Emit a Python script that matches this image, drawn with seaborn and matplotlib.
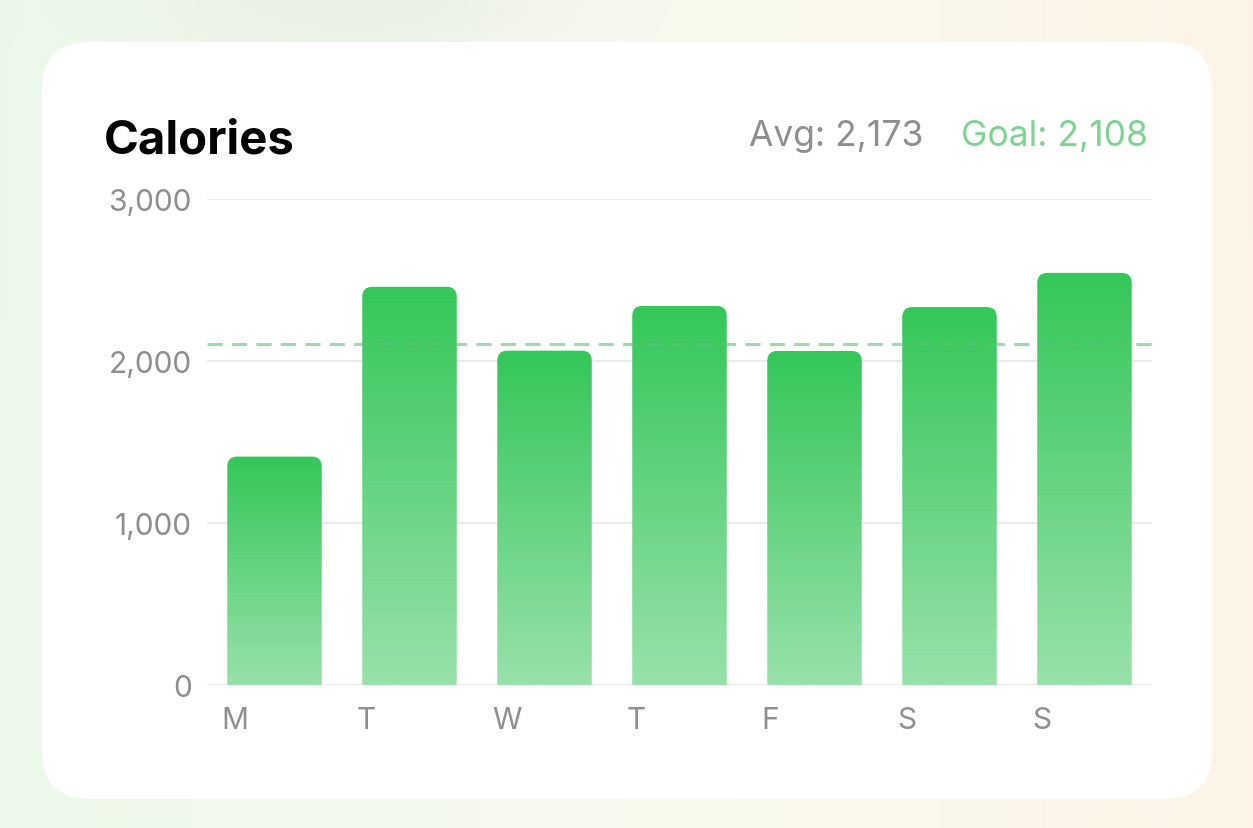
import numpy as np
import pandas as pd
import matplotlib
matplotlib.use('Agg')
import matplotlib.pyplot as plt
import seaborn as sns
from matplotlib.patches import FancyBboxPatch
from matplotlib.colors import LinearSegmentedColormap

# data
days = ['M', 'T', 'W', 'T', 'F', 'S', 'S']
calories = [1410, 2458, 2064, 2340, 2062, 2333, 2544]
avg_value = 2173
goal_value = 2108
y_ticks = [0, 1000, 2000, 3000]

sns.set_theme(style='white')
plt.rcParams['font.family'] = ['Inter', 'DejaVu Sans']

W, H = 1253, 829
fig = plt.figure(figsize=(W / 100, H / 100), dpi=100)

# soft gradient backdrop + white card
bg = fig.add_axes([0, 0, 1, 1])
bg.set_xlim(0, W)
bg.set_ylim(H, 0)
bg.axis('off')
gx, gy = np.meshgrid(np.linspace(0, 1, 400), np.linspace(0, 1, 260))
c_left = np.array([236, 249, 234]) / 255
c_mid = np.array([249, 250, 239]) / 255
c_right = np.array([253, 244, 231]) / 255
t = gx[..., None]
img = np.where(t < 0.5, c_left + (c_mid - c_left) * (t / 0.5), c_mid + (c_right - c_mid) * ((t - 0.5) / 0.5))
blob = np.exp(-((gx - 0.28) ** 2 / (2 * 0.12 ** 2) + (gy - 0.0) ** 2 / (2 * 0.05 ** 2)))[..., None]
img = img * (1 - 0.6 * blob) + np.array([228, 234, 226]) / 255 * 0.6 * blob
bg.imshow(img, extent=(0, W, H, 0), aspect='auto', zorder=0)
card = FancyBboxPatch((42, 43), 1170, 757, boxstyle='round,pad=0,rounding_size=48',
                      fc='white', ec='none', zorder=1)
bg.add_patch(card)

# chart area
ax_l, ax_r, ax_t, ax_b = 207, 1152, 200, 686
ax = fig.add_axes([ax_l / W, 1 - ax_b / H, (ax_r - ax_l) / W, (ax_b - ax_t) / H])
ax.set_facecolor('none')

df = pd.DataFrame({'slot': np.arange(len(days)), 'calories': calories})
sns.barplot(data=df, x='slot', y='calories', width=0.7, color='#34c759', ax=ax, zorder=2)

ax.set_xlim(-0.5, len(days) - 0.5)
ax.set_ylim(0, y_ticks[-1])

# rounded tops with vertical gradient
bar_cmap = LinearSegmentedColormap.from_list('bar', ['#98e1aa', '#34c759'])
px_x = (ax_r - ax_l) / len(days)
px_y = (ax_b - ax_t) / y_ticks[-1]
rx = 10 / px_x
ry = 10 / px_y
grad = np.linspace(1, 0, 256).reshape(-1, 1)
for p in list(ax.patches):
    x0, w, h = p.get_x(), p.get_width(), p.get_height()
    p.set_visible(False)
    shape = FancyBboxPatch((x0, -ry), w, h + ry, boxstyle=f'round,pad=0,rounding_size={rx}',
                           mutation_aspect=ry / rx, fc='none', ec='none', transform=ax.transData)
    ax.add_patch(shape)
    im = ax.imshow(grad, extent=(x0, x0 + w, 0, h), origin='upper', aspect='auto',
                   cmap=bar_cmap, vmin=0, vmax=1, zorder=2)
    im.set_clip_path(shape)

ax.set_xlim(-0.5, len(days) - 0.5)
ax.set_ylim(0, y_ticks[-1])

# goal line
ax.axhline(goal_value, color=(92 / 255, 196 / 255, 118 / 255), alpha=0.6, lw=2.2,
           ls=(0, (5, 3)), zorder=3)

# grid + ticks
ax.set_yticks(y_ticks)
ax.set_yticklabels([f'{v:,}' for v in y_ticks])
ax.yaxis.grid(True, color='#e6e6ea', lw=1.2)
ax.xaxis.grid(False)
ax.set_axisbelow(True)
ax.set_xticks(np.arange(len(days)) - 0.39)
ax.set_xticklabels(days)
for lab in ax.get_xticklabels():
    lab.set_ha('left')
ax.tick_params(axis='y', length=0, pad=11, labelsize=21.5, labelcolor='#8e8e93')
ax.tick_params(axis='x', length=0, pad=15, labelsize=21.5, labelcolor='#8e8e93')
ax.set_xlabel('')
ax.set_ylabel('')
for s in ax.spines.values():
    s.set_visible(False)

# header texts
fig.text(104 / W, 1 - 153 / H, 'Calories', fontsize=34, fontweight='bold', color='black', va='baseline')
fig.text(1054 / W, 1 - 146 / H, f'Goal: {goal_value:,}', fontsize=25.5, color='#7dd491',
         ha='center', va='baseline')
fig.text(836 / W, 1 - 146 / H, f'Avg: {avg_value:,}', fontsize=25.5, color='#8e8e93',
         ha='center', va='baseline')

fig.savefig('out.png', dpi=100)
